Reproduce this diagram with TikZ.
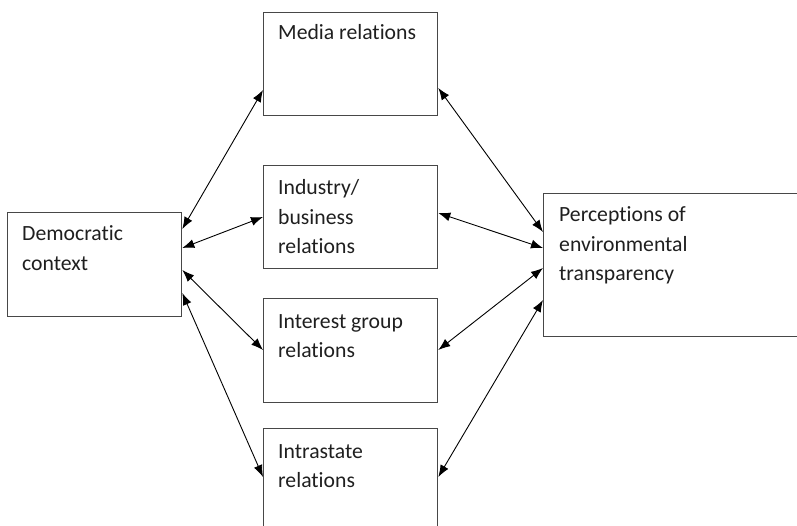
\documentclass[tikz,border=0pt]{standalone}
\usepackage{fontspec}
\setmainfont{Carlito}[Ligatures=NoCommon]
\usetikzlibrary{arrows.meta,calc}
\begin{document}
\begin{tikzpicture}[x=1pt,y=-1pt,
  box/.style={draw=black!72, line width=1.3pt, inner sep=0pt, anchor=north west, minimum width=174pt},
  txt/.style={font=\fontsize{21.7}{29.5}\selectfont, inner sep=0pt, anchor=base west, align=left, text=black!88},
  link/.style={line width=0.9pt, {Latex[length=12pt,width=9pt]}-{Latex[length=12pt,width=9pt]}}]
\useasboundingbox (0,0) rectangle (797,526);
\clip (0,0) rectangle (797,526);
% boxes
\node[box, minimum height=104pt] (dem) at (7,212) {};
\node[box, minimum height=103pt] (media) at (263,12) {};
\node[box, minimum height=103pt] (ind) at (263,165) {};
\node[box, minimum height=104pt] (int) at (263,298) {};
\node[box, minimum height=115pt] (intra) at (263,428) {};
\node[box, minimum width=265pt, minimum height=143pt] (perc) at (543,193) {};
% texts (anchored at the baseline of their last line)
\node[txt] (demT) at ($(dem.north west)+(15,58.5)$) {Democratic\\context};
\node[txt] (mediaT) at ($(media.north west)+(15,28)$) {Media relations};
\node[txt] (indT) at ($(ind.north west)+(15,89)$) {Industry/\\business\\relations};
\node[txt] (intT) at ($(int.north west)+(15,59.5)$) {Interest group\\relations};
\node[txt] (intraT) at ($(intra.north west)+(15,59.5)$) {Intrastate\\relations};
\node[txt] (percT) at ($(perc.north west)+(16,88)$) {Perceptions of\\environmental\\transparency};
% connectors from Democratic context
\draw[link] ([yshift=-17pt]dem.north east) -- ([yshift=-78pt]media.north west);
\draw[link] ([yshift=-36pt]dem.north east) -- ([yshift=-52pt]ind.north west);
\draw[link] ([yshift=-58pt]dem.north east) -- ([yshift=-52pt]int.north west);
\draw[link] ([yshift=-81pt]dem.north east) -- ([yshift=-49pt]intra.north west);
% connectors to Perceptions
\draw[link] ([yshift=-76pt]media.north east) -- ([yshift=-39pt]perc.north west);
\draw[link] ([yshift=-48pt]ind.north east) -- ([yshift=-55pt]perc.north west);
\draw[link] ([yshift=-52pt]int.north east) -- ([yshift=-75pt]perc.north west);
\draw[link] ([yshift=-49pt]intra.north east) -- ([yshift=-107pt]perc.north west);
\end{tikzpicture}
\end{document}
